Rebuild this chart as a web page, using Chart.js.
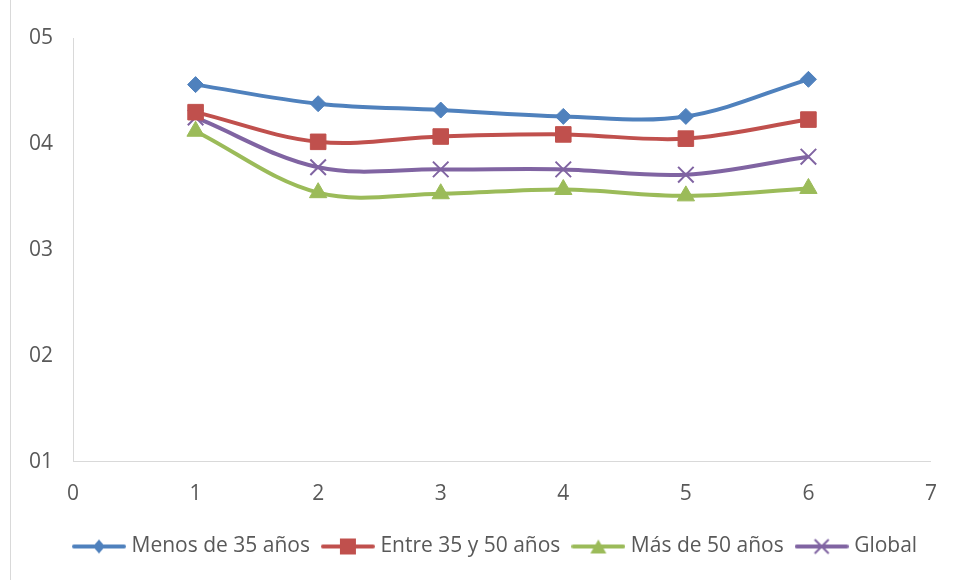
<!DOCTYPE html>
<html>
<head>
<meta charset="utf-8">
<title>Valoración por grupo de edad</title>
<script src="https://cdn.jsdelivr.net/npm/chart.js@4/dist/chart.umd.min.js"></script>
<style>
  html, body { margin: 0; padding: 0; background: #ffffff; }
  #wrap { width: 957px; height: 580px; position: relative; }
</style>
</head>
<body>
<div id="wrap"><canvas id="chart" width="957" height="580"></canvas></div>
<script>
// Data
const xValues = [1, 2, 3, 4, 5, 6];
const seriesNames = ['Menos de 35 años', 'Entre 35 y 50 años', 'Más de 50 años', 'Global'];
const menos35 = [4.56, 4.38, 4.32, 4.26, 4.26, 4.61];
const entre35y50 = [4.30, 4.02, 4.07, 4.09, 4.05, 4.23];
const mas50 = [4.12, 3.54, 3.53, 3.57, 3.51, 3.58];
const globalVals = [4.25, 3.78, 3.76, 3.76, 3.71, 3.88];
const yTicks = [1, 2, 3, 4, 5];

const COLORS = ['#4F81BD', '#C0504D', '#9BBB59', '#8064A2'];
const TEXT = '#595959';
const AXIS = '#D9D9D9';
const FONT = "'Open Sans', 'DejaVu Sans', sans-serif";
const FONT_SIZE = 21;

function pairs(ys) { return xValues.map((x, i) => ({ x: x, y: ys[i] })); }

// Legend icons: a short line with the series marker in the middle
function legendIcon(color, marker) {
  const c = document.createElement('canvas');
  c.width = 54; c.height = 20;
  const g = c.getContext('2d');
  g.strokeStyle = color; g.fillStyle = color;
  g.lineWidth = 4; g.lineCap = 'round';
  g.beginPath(); g.moveTo(2, 10); g.lineTo(52, 10); g.stroke();
  const cx = 27, cy = 10;
  g.beginPath();
  if (marker === 'diamond') {
    g.moveTo(cx, cy - 7); g.lineTo(cx + 6, cy); g.lineTo(cx, cy + 7); g.lineTo(cx - 6, cy); g.closePath(); g.fill();
  } else if (marker === 'square') {
    g.rect(cx - 8, cy - 8, 16, 16); g.fill();
  } else if (marker === 'triangle') {
    g.moveTo(cx, cy - 7); g.lineTo(cx + 8, cy + 7); g.lineTo(cx - 8, cy + 7); g.closePath(); g.fill();
  } else {
    g.lineWidth = 2; g.lineCap = 'butt';
    g.moveTo(cx - 7, cy - 7); g.lineTo(cx + 7, cy + 7);
    g.moveTo(cx + 7, cy - 7); g.lineTo(cx - 7, cy + 7); g.stroke();
  }
  return c;
}
const legendIcons = [
  legendIcon(COLORS[0], 'diamond'),
  legendIcon(COLORS[1], 'square'),
  legendIcon(COLORS[2], 'triangle'),
  legendIcon(COLORS[3], 'cross')
];

// Outer frame edge on the left side
const frameEdge = {
  id: 'frameEdge',
  beforeDraw(chart) {
    const ctx = chart.ctx;
    ctx.save();
    ctx.strokeStyle = AXIS; ctx.lineWidth = 1;
    ctx.beginPath(); ctx.moveTo(10.5, 0); ctx.lineTo(10.5, chart.height); ctx.stroke();
    ctx.restore();
  }
};

// Place the legend row below the axis labels
const legendPlacement = {
  id: 'legendPlacement',
  afterLayout(chart) {
    const lg = chart.legend;
    if (!lg) return;
    const pad = lg.options.labels.padding;
    const dx = 77 - (lg.left + pad);
    lg.left += dx; lg.right += dx;
    lg.top -= 7; lg.bottom -= 7;
  }
};

function dataset(i, values, style, radius, bw) {
  return {
    label: seriesNames[i],
    data: pairs(values),
    borderColor: COLORS[i],
    backgroundColor: COLORS[i],
    borderWidth: 4,
    tension: 0.35,
    pointStyle: style,
    pointRadius: radius,
    pointHoverRadius: radius,
    pointBackgroundColor: COLORS[i],
    pointBorderColor: COLORS[i],
    pointBorderWidth: bw,
    fill: false
  };
}

new Chart(document.getElementById('chart'), {
  type: 'line',
  data: {
    datasets: [
      dataset(0, menos35, 'rectRot', 8, 1),
      dataset(1, entre35y50, 'rect', 11, 1),
      dataset(2, mas50, 'triangle', 10, 1),
      dataset(3, globalVals, 'crossRot', 11, 2)
    ]
  },
  options: {
    responsive: false,
    animation: false,
    layout: { padding: { left: 9, right: 20, top: 38, bottom: 6 } },
    plugins: {
      tooltip: { enabled: false },
      legend: {
        position: 'bottom',
        align: 'start',
        labels: {
          usePointStyle: true,
          pointStyleWidth: 44,
          padding: 16,
          color: TEXT,
          font: { family: FONT, size: FONT_SIZE },
          generateLabels(chart) {
            return chart.data.datasets.map((ds, i) => ({
              text: ds.label,
              pointStyle: legendIcons[i],
              fillStyle: COLORS[i],
              strokeStyle: COLORS[i],
              lineWidth: 0,
              fontColor: TEXT,
              hidden: false,
              datasetIndex: i
            }));
          }
        }
      }
    },
    scales: {
      x: {
        type: 'linear',
        min: 0, max: 7,
        grid: { display: true, drawOnChartArea: false, drawTicks: false },
        border: { display: true, color: AXIS, width: 1 },
        ticks: { stepSize: 1, padding: 20, color: TEXT, font: { family: FONT, size: FONT_SIZE } }
      },
      y: {
        type: 'linear',
        min: 1, max: 5,
        afterBuildTicks(axis) { axis.ticks = yTicks.map(v => ({ value: v })); },
        grid: { display: true, drawOnChartArea: false, drawTicks: false },
        border: { display: true, color: AXIS, width: 1 },
        ticks: {
          padding: 20, color: TEXT, font: { family: FONT, size: FONT_SIZE },
          callback: v => '0' + v
        }
      }
    }
  },
  plugins: [frameEdge, legendPlacement]
});
</script>
</body>
</html>
